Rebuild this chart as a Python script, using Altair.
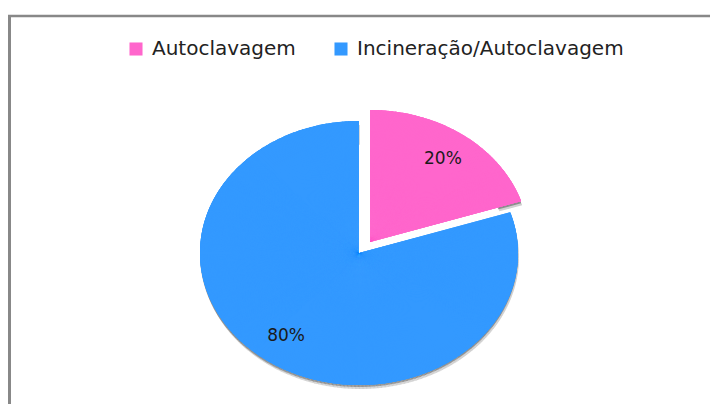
import altair as alt
import numpy as np
import pandas as pd

# ---- data ----
categories = ["Autoclavagem", "Incineração/Autoclavagem"]
shares = [20, 80]
labels = ["20%", "80%"]
colors = ["#FF66CC", "#3399FF"]

# ---- layout / style constants ----
W, H = 702, 396
CX, CY = 351, 245          # pie centre (chart coords)
A = 159                    # horizontal semi-axis (px)
RATIO = 132 / 159          # vertical / horizontal semi-axis
EXPLODE = {categories[0]: (11, -11), categories[1]: (0, 0)}
STEP = 0.5                 # degrees per wedge (ellipse approximation)
LABEL_K = 0.78


def polar(t_deg):
    t = np.radians(t_deg)
    return np.degrees(np.arctan2(np.sin(t), RATIO * np.cos(t))) % 360


def rad(t_deg):
    t = np.radians(t_deg)
    return float(np.hypot(np.sin(t), RATIO * np.cos(t)))


wedges = {}
texts = {}
start = 0.0
for cat, s, lab in zip(categories, shares, labels):
    t_start = start / sum(shares) * 360
    t_end = (start + s) / sum(shares) * 360
    n = int(round((t_end - t_start) / STEP))
    ts = np.linspace(t_start, t_end, n + 1)
    rows = []
    for i, (t0, t1) in enumerate(zip(ts[:-1], ts[1:])):
        p0 = polar(t0)
        p1 = polar(t1)
        if p1 <= p0:
            p1 += 360
        if i < n - 1:
            p1 += 0.4  # small overlap to hide seams
        r = rad((t0 + t1) / 2)
        rows.append({"cat": cat, "th0": float(p0), "th1": float(p1), "r": r, "r2": r * 0.85})
    wedges[cat] = pd.DataFrame(rows)
    tm = (t_start + t_end) / 2
    texts[cat] = pd.DataFrame([{"cat": cat, "lab": lab, "tl": float(polar(tm)), "rl": LABEL_K * rad(tm)}])
    start += s

theta_scale = alt.Scale(domain=[0, 360], range=[0, 2 * np.pi])
radius_scale = alt.Scale(type="linear", domain=[0, 1], range=[0, A], zero=True)
color_scale = alt.Scale(domain=categories, range=colors)

legend = alt.Legend(
    orient="none", legendX=118, legendY=31, direction="horizontal", title=None,
    symbolType="square", symbolSize=170, symbolStrokeWidth=0, symbolOpacity=1,
    labelFontSize=20, labelFont="DejaVu Sans", labelColor="#222222", labelLimit=1000,
    labelOffset=6, columnPadding=35, padding=0,
)

layers = []

# frame lines (left and top)
layers.append(alt.Chart(pd.DataFrame({"k": [0]})).mark_rule(color="#888888", strokeWidth=3).encode(
    x=alt.value(1.5), y=alt.value(7), y2=alt.value(H)))
layers.append(alt.Chart(pd.DataFrame({"k": [0]})).mark_rule(color="#888888", strokeWidth=2.5).encode(
    x=alt.value(0), x2=alt.value(W), y=alt.value(8)))

# soft shadow (outer ring only)
for (sx, sy, op) in [(0, 2, 0.18), (1, 4, 0.10)]:
    for cat in categories:
        dx, dy = EXPLODE[cat]
        layers.append(alt.Chart(wedges[cat]).mark_arc(color="#000000", opacity=op).encode(
            theta=alt.Theta("th0:Q", scale=theta_scale, stack=False),
            theta2="th1:Q",
            radius=alt.Radius("r:Q", scale=radius_scale),
            radius2="r2:Q",
            x=alt.value(CX + dx + sx), y=alt.value(CY + dy + sy),
        ))

# slices (drawn twice so antialiasing seams vanish)
for rep in range(2):
    for cat in categories:
        dx, dy = EXPLODE[cat]
        layers.append(alt.Chart(wedges[cat]).mark_arc(opacity=1).encode(
            theta=alt.Theta("th0:Q", scale=theta_scale, stack=False),
            theta2="th1:Q",
            radius=alt.Radius("r:Q", scale=radius_scale),
            color=alt.Color("cat:N", scale=color_scale, legend=legend),
            x=alt.value(CX + dx), y=alt.value(CY + dy),
        ))

# labels
for cat in categories:
    dx, dy = EXPLODE[cat]
    layers.append(alt.Chart(texts[cat]).mark_text(
        font="DejaVu Sans", fontSize=17, color="#1a1a1a", align="center", baseline="middle").encode(
        theta=alt.Theta("tl:Q", scale=theta_scale, stack=False),
        radius=alt.Radius("rl:Q", scale=radius_scale),
        text="lab:N",
        x=alt.value(CX + dx), y=alt.value(CY + dy),
    ))

chart = alt.layer(*layers).properties(
    width=W, height=H, padding=0, autosize=alt.AutoSizeParams(type="none"), background="white"
).configure_view(stroke=None)

chart.save("out.html", embed_options={"renderer": "svg", "actions": False})
